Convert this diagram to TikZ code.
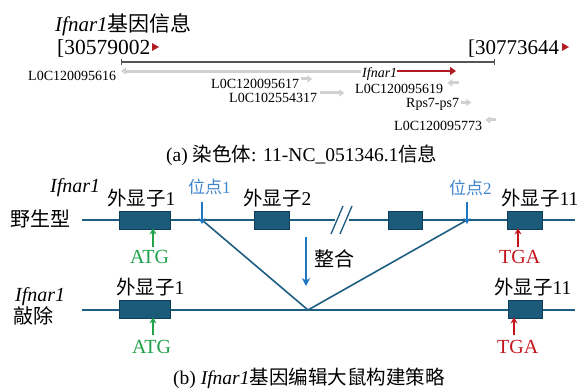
\documentclass[tikz,border=0pt]{standalone}
\usepackage{fontspec}
\setmainfont{Liberation Serif}
\newfontfamily\cjk{Noto Sans CJK SC}
\usetikzlibrary{arrows.meta}
\definecolor{gene}{HTML}{1D5E82}
\definecolor{exonF}{HTML}{1B5A79}
\definecolor{exonB}{HTML}{0F3F58}
\definecolor{siteB}{HTML}{1F77C4}
\definecolor{siteT}{HTML}{3F86CF}
\definecolor{atgG}{HTML}{1FA24A}
\definecolor{tgaR}{HTML}{C4161C}
\definecolor{redA}{HTML}{B01C22}
\definecolor{rangeG}{HTML}{555555}
\definecolor{lgray}{HTML}{D0D0D0}
\newcommand\fsz[1]{\fontsize{#1}{#1}\selectfont}
\begin{document}
\begin{tikzpicture}[x=1pt,y=-1pt,
  lbl/.style={inner sep=0pt,anchor=base west},
  small/.style={lbl,font=\fsz{14}},
  garrow/.style={draw=lgray,line width=3pt,-{Triangle[length=5pt,width=7pt]}},
  gline/.style={draw=gene,line width=1.8pt},
  exon/.style={draw=exonB,fill=exonF,line width=0.8pt,minimum height=18pt,inner sep=0pt},
  sitearrow/.style={draw=siteB,line width=1.7pt,-{Stealth[length=6pt,width=7pt]}},
  atgarrow/.style={draw=atgG,line width=1.5pt,-{Stealth[length=6pt,width=7pt]}},
  tgaarrow/.style={draw=tgaR,line width=1.5pt,-{Stealth[length=6pt,width=7pt]}},
]
\useasboundingbox (0,0) rectangle (580,391);
\fill[white] (0,0) rectangle (580,391);

% ---------- (a) ----------
\node[lbl,font=\fsz{21}] (title) at (55,31) {\itshape Ifnar1\upshape\cjk 基因信息};
\node[lbl,font=\fsz{21.5}] (lo) at (57,54) {[30579002};
\node[lbl,font=\fsz{21}] (hi) at (468,54) {[30773644};
\fill[redA] (152,43) -- (159,47) -- (152,51) -- cycle;
\fill[redA] (562,43) -- (569,47) -- (562,51) -- cycle;

\coordinate (rs) at (121,62);
\coordinate (re) at (494,62);
\draw[rangeG,line width=1.6pt] (rs) -- (re);
\draw[rangeG,line width=1pt] ([yshift=-3pt]rs) -- ([yshift=3pt]rs);
\draw[rangeG,line width=1pt] ([yshift=-3pt]re) -- ([yshift=3pt]re);

\node[small] (g616) at (28,80) {L0C120095616};
\coordinate (g616s) at (361,71);
\coordinate (g616e) at (121,71);
\draw[garrow] (g616s) -- (g616e);

\node[small,font=\fsz{14}\itshape] (ifn) at (362,77) {Ifnar1};
\coordinate (ifne) at (456,71);
\draw[redA,line width=2.8pt,-{Triangle[length=6pt,width=8pt]}] (ifn.east|-ifne) -- (ifne);

\node[small] (g617) at (211,88) {L0C120095617};
\draw[garrow] ([xshift=2pt,yshift=4.5pt]g617.east) -- ++(11,0);

\node[small] (g4317) at (229,102) {L0C102554317};
\draw[garrow] ([xshift=3pt,yshift=4.5pt]g4317.east) -- ++(24,0);

\node[small] (g619) at (355,93) {L0C120095619};
\draw[garrow] ([xshift=16pt,yshift=5.5pt]g619.east) -- ++(-12,0);

\node[small] (rps) at (406,107) {Rps7-ps7};
\draw[garrow] ([xshift=2pt,yshift=4.5pt]rps.base east) -- ++(10,0);

\node[small] (g773) at (394,130) {L0C120095773};
\draw[garrow] ([xshift=14pt,yshift=5.5pt]g773.east) -- ++(-11,0);

\node[lbl,font=\fsz{19.5}] (capa) at (166,161) {(a) {\cjk 染色体}: 11-NC\_051346.1{\cjk 信息}};

% ---------- (b) ----------
% wild type
\node[lbl,font=\fsz{20}\itshape] (wtif) at (50,192) {Ifnar1};
\node[lbl,font=\fsz{20}] (wt) at (10,226) {\cjk 野生型};
\coordinate (wtL) at (82,220);
\coordinate (brA) at (335,220);
\coordinate (brB) at (349,220);
\coordinate (wtR) at (575,220);
\coordinate (s1) at (202,220);
\coordinate (s2) at (467,220);
\coordinate (vv) at (308,310);
\draw[gline] (wtL) -- (brA);
\draw[gline] (brB) -- (wtR);
\draw[draw=gene,line width=1.3pt] (331,234) -- (343,206);
\draw[draw=gene,line width=1.3pt] (340,234) -- (352,206);

% knockout
\node[lbl,font=\fsz{20}\itshape] (koif) at (15,301) {Ifnar1};
\node[lbl,font=\fsz{20}] (ko) at (13,323) {\cjk 敲除};
\coordinate (koL) at (82,310);
\coordinate (koR) at (575,310);
\draw[gline] (koL) -- (koR);

% deletion
\draw[draw=gene,line width=1.6pt] (s1) -- (vv) -- (s2);

% exons
\node[exon,minimum width=51pt] (e1) at (144.5,220) {};
\node[exon,minimum width=35pt] (e2) at (271.5,220) {};
\node[exon,minimum width=34pt] (e3) at (405,220) {};
\node[exon,minimum width=35pt] (e11) at (524.5,220) {};
\node[exon,minimum width=51pt] (k1) at (144.5,309) {};
\node[exon,minimum width=34pt] (k11) at (525,309) {};

\node[lbl,font=\fsz{19.5}] (le1) at (107,205) {{\cjk 外显子}1};
\node[lbl,font=\fsz{19.5}] (le2) at (243,205) {{\cjk 外显子}2};
\node[lbl,font=\fsz{19.5}] (le11) at (501,205) {{\cjk 外显子}11};
\node[lbl,font=\fsz{19.5}] (lk1) at (116,294) {{\cjk 外显子}1};
\node[lbl,font=\fsz{19.5}] (lk11) at (494,294) {{\cjk 外显子}11};

% sites
\node[lbl,font=\fsz{17},text=siteT] (site1) at (188,193) {{\cjk 位点}1};
\node[lbl,font=\fsz{17},text=siteT] (site2) at (449,194) {{\cjk 位点}2};
\coordinate (s1t) at (202,202);
\coordinate (s2t) at (467,202);
\draw[sitearrow] (s1t) -- ([yshift=-4pt]s1);
\draw[sitearrow] (s2t) -- ([yshift=-4pt]s2);

% integration
\coordinate (it) at (306,237);
\coordinate (ib) at (306,286);
\draw[siteB,line width=1.7pt,-{Stealth[length=8pt,width=8pt]}] (it) -- (ib);
\node[lbl,font=\fsz{20}] (integ) at (314,266) {\cjk 整合};

% ATG / TGA
\node[lbl,font=\fsz{20},text=atgG] (atg1) at (130,263) {ATG};
\node[lbl,font=\fsz{20},text=tgaR] (tga1) at (499,263) {TGA};
\node[lbl,font=\fsz{20},text=atgG] (atg2) at (132,353) {ATG};
\node[lbl,font=\fsz{20},text=tgaR] (tga2) at (497,353) {TGA};
\draw[atgarrow] (153,247) -- ([yshift=1pt]e1.south-|153,0);
\draw[tgaarrow] (518,247) -- ([yshift=1pt]e11.south-|518,0);
\draw[atgarrow] (153,335) -- ([yshift=1pt]k1.south-|153,0);
\draw[tgaarrow] (514,335) -- ([yshift=1pt]k11.south-|514,0);

\node[lbl,font=\fsz{19.5}] (capb) at (173,384) {(b) \textit{Ifnar1}{\cjk 基因编辑大鼠构建策略}};
\end{tikzpicture}
\end{document}
